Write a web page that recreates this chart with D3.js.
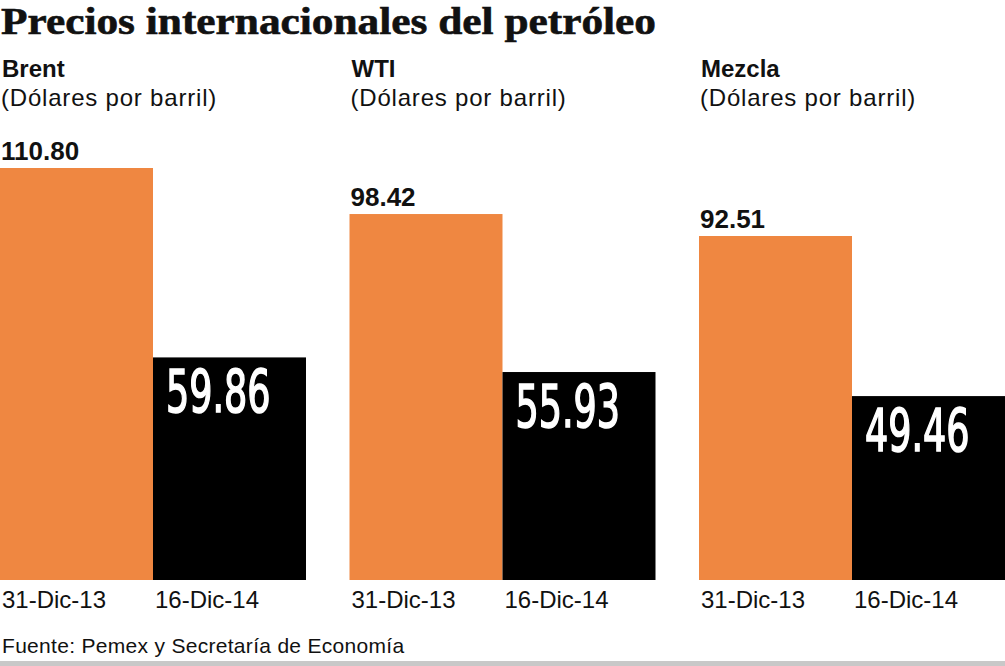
<!DOCTYPE html>
<html lang="es">
<head>
    <meta charset="utf-8" />
    <title>Precios internacionales del petróleo</title>
    <script src="https://d3js.org/d3.v7.min.js"></script>
    <style>
        body { margin: 0; background: white; }
        svg { display: block; }
        text { fill: #111; font-family: 'Liberation Sans', Arial, sans-serif; }
    </style>
</head>
<body>
    <script>

        // Data
        const crudes = ["Brent", "WTI", "Mezcla"];
        const dates = ["31-Dic-13", "16-Dic-14"];
        const pricesDic13 = [110.80, 98.42, 92.51];
        const pricesDic14 = [59.86, 55.93, 49.46];
        const unitLabel = "(Dólares por barril)";

        const width = 1005;
        const height = 666;
        const baseline = 580;

        const svg = d3.select("body")
            .append("svg")
            .attr("width", width)
            .attr("height", height);

        // Panels across the page, two bars in each
        const xPanel = d3.scaleBand()
            .domain(crudes)
            .range([0, width])
            .paddingInner(0.1245)
            .paddingOuter(0);

        const xBar = d3.scaleBand()
            .domain(dates)
            .range([0, xPanel.bandwidth()])
            .padding(0);

        const yScale = d3.scaleLinear()
            .domain([0, d3.max(pricesDic13)])
            .range([baseline, 168]);

        const colors = d3.scaleOrdinal()
            .domain(dates)
            .range(["#ef8741", "#000000"]);

        // Title
        svg.append("text")
            .attr("x", 1)
            .attr("y", 34)
            .attr("textLength", 655)
            .attr("lengthAdjust", "spacingAndGlyphs")
            .style("font-family", "'Liberation Serif', serif")
            .style("font-weight", "bold")
            .style("font-size", "38px")
            .style("stroke", "#111")
            .style("stroke-width", "0.6px")
            .text("Precios internacionales del petróleo");

        const panels = svg.selectAll("g.panel")
            .data(crudes.map((c, i) => ({ name: c, values: [pricesDic13[i], pricesDic14[i]] })))
            .enter()
            .append("g")
            .attr("class", "panel")
            .attr("transform", d => `translate(${xPanel(d.name)},0)`);

        // Panel headings
        panels.append("text")
            .attr("x", 2)
            .attr("y", 77)
            .style("font-weight", "bold")
            .style("font-size", "24px")
            .text(d => d.name);

        panels.append("text")
            .attr("x", 1)
            .attr("y", 106)
            .style("font-size", "24px")
            .style("letter-spacing", "0.8px")
            .text(unitLabel);

        // Bars
        const bars = panels.selectAll("g.bar")
            .data(d => d.values.map((v, j) => ({ date: dates[j], value: v })))
            .enter()
            .append("g")
            .attr("class", "bar");

        bars.append("rect")
            .attr("x", d => xBar(d.date))
            .attr("y", d => yScale(d.value))
            .attr("width", xBar.bandwidth())
            .attr("height", d => baseline - yScale(d.value))
            .style("fill", d => colors(d.date));

        // Value labels: above orange bars, inside black bars
        bars.filter(d => d.date === dates[0])
            .append("text")
            .attr("x", d => xBar(d.date) + 1)
            .attr("y", d => yScale(d.value) - 8)
            .style("font-weight", "bold")
            .style("font-size", "26px")
            .text(d => d.value.toFixed(2));

        // big condensed figures, squeezed horizontally
        bars.filter(d => d.date === dates[1])
            .append("text")
            .attr("transform", d => `translate(${xBar(d.date) + 13},${yScale(d.value) + 55}) scale(0.7,1)`)
            .style("font-family", "'DejaVu Sans Condensed', 'DejaVu Sans', sans-serif")
            .style("font-size", "58px")
            .style("fill", "white")
            .style("stroke", "white")
            .style("stroke-width", "1.6px")
            .text(d => d.value.toFixed(2));

        // Date labels under the bars
        bars.append("text")
            .attr("x", d => xBar(d.date) + 2)
            .attr("y", 608)
            .style("font-size", "24px")
            .text(d => d.date);

        // Source
        svg.append("text")
            .attr("x", 2)
            .attr("y", 653)
            .style("font-size", "21px")
            .style("letter-spacing", "0.3px")
            .text("Fuente: Pemex y Secretaría de Economía");

        // Bottom rule
        svg.append("rect")
            .attr("x", 0)
            .attr("y", 661)
            .attr("width", width)
            .attr("height", 5)
            .style("fill", "#c8c8c8");

    </script>
</body>
</html>
